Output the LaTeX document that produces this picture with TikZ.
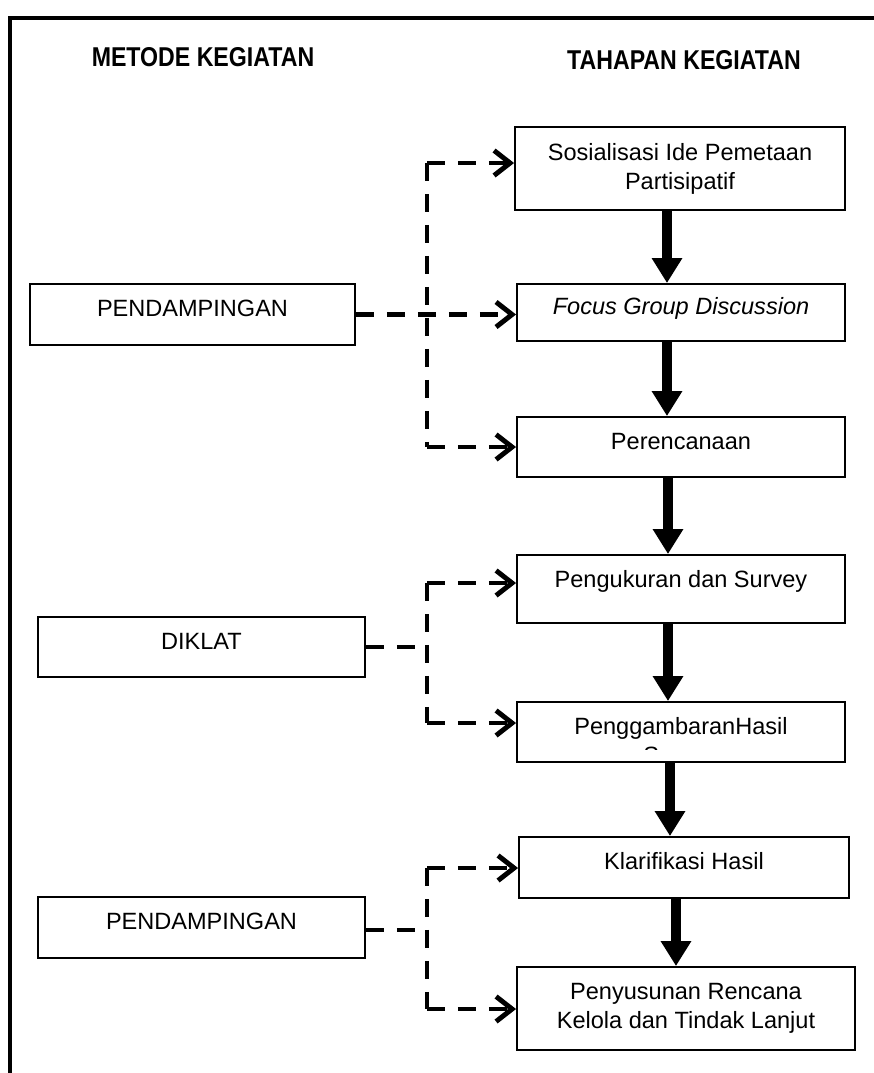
\documentclass[tikz,border=0pt]{standalone}
\usepackage{fontspec}
\setmainfont{Liberation Sans}
\newfontfamily\judulfont[FakeStretch=0.85]{Liberation Sans}
\usetikzlibrary{arrows.meta}
\usetikzlibrary{calc}

\tikzset{
 kotak/.style={draw, line width=1.1pt, inner sep=0pt, align=center,
  font=\fontsize{13.4}{16.44}\selectfont},
 satu/.style={kotak, text height=0.34cm, text depth=0.25cm},
 judul/.style={font=\judulfont\bfseries\fontsize{15.5}{18}\selectfont},
 putus/.style={line width=2.8pt, dash pattern=on 0.36cm off 0.26cm},
 barb/.style={arrows={-Straight Barb[length=3.2mm,width=5mm]}},
 panah/.style={line width=5.7pt, -{Triangle[length=5mm,width=5.8mm]}}
}

\begin{document}
\begin{tikzpicture}[x=0.02cm, y=-0.02cm]

\useasboundingbox (0,0) rectangle (874,1073);
\draw[line width=2.27pt] (10,1073) -- (10,18) -- (874,18);

\node[judul] (metode) at (203,57) {METODE KEGIATAN};
\node[judul] (tahapan) at (684,60) {TAHAPAN KEGIATAN};

% tahapan kegiatan
\node[kotak, minimum width=6.6cm, minimum height=1.66cm] (B1) at (680,168.5) {Sosialisasi Ide Pemetaan\\Partisipatif};
\node[satu, minimum width=6.56cm, minimum height=1.14cm] (B2) at (681,312.5) {\itshape Focus Group Discussion};
\node[satu, minimum width=6.56cm, minimum height=1.2cm] (B3) at (681,447) {Perencanaan};
\node[satu, minimum width=6.56cm, minimum height=1.36cm, text depth=0.42cm] (B4) at (681,589) {Pengukuran dan Survey};
\node[satu, minimum width=6.56cm, minimum height=1.2cm] (B5) at (681,732) {PenggambaranHasil};
\node[satu, minimum width=6.6cm, minimum height=1.22cm] (B6) at (684,867.5) {Klarifikasi Hasil};
\node[kotak, minimum width=6.76cm, minimum height=1.66cm] (B7) at (686,1008.5) {Penyusunan Rencana\\Kelola dan Tindak Lanjut};

% baris kedua yang terpotong
\begin{scope}
\clip (517,702) rectangle (845,749.6);
\node[font=\fontsize{13.4}{16.44}\selectfont, anchor=base, inner sep=0pt] (B5s) at (680,763) {Survey};
\end{scope}

% metode kegiatan
\node[satu, minimum width=6.5cm, minimum height=1.22cm] (L1) at (192.5,314.5) {PENDAMPINGAN};
\node[satu, minimum width=6.54cm, minimum height=1.2cm] (L2) at (201.5,647) {DIKLAT};
\node[satu, minimum width=6.54cm, minimum height=1.22cm] (L3) at (201.5,927.5) {PENDAMPINGAN};

% garis putus-putus
\coordinate (k1) at (427,163);
\coordinate (k2) at (427,447);
\coordinate (k3) at (427,583);
\coordinate (k4) at (427,723);
\coordinate (k5) at (427,868);
\coordinate (k6) at (427,1009);

\draw[putus, barb] (k1) -- (k1 -| B1.west);
\draw[putus] (k1) -- (k2);
\draw[putus, barb] (k2) -- (k2 -| B3.west);
\draw[putus, barb] (L1.east) -- (L1.east -| B2.west);

\draw[putus, barb] (k3) -- (k3 -| B4.west);
\draw[putus] (k3) -- (k4);
\draw[putus, barb] (k4) -- (k4 -| B5.west);
\draw[putus] (L2.east) -- (L2.east -| k3);

\draw[putus, barb] (k5) -- (k5 -| B6.west);
\draw[putus] (k5) -- (k6);
\draw[putus, barb] (k6) -- (k6 -| B7.west);
\draw[putus] ($(L3.east)+(0,2.5)$) -- ($(L3.east -| k5)+(0,2.5)$);

% panah tahapan
\foreach \a/\b/\x in {B1/B2/667, B2/B3/667, B3/B4/668, B4/B5/668, B5/B6/670, B6/B7/676}
 \draw[panah] (\a.south -| \x,0) -- (\b.north -| \x,0);

\end{tikzpicture}
\end{document}
